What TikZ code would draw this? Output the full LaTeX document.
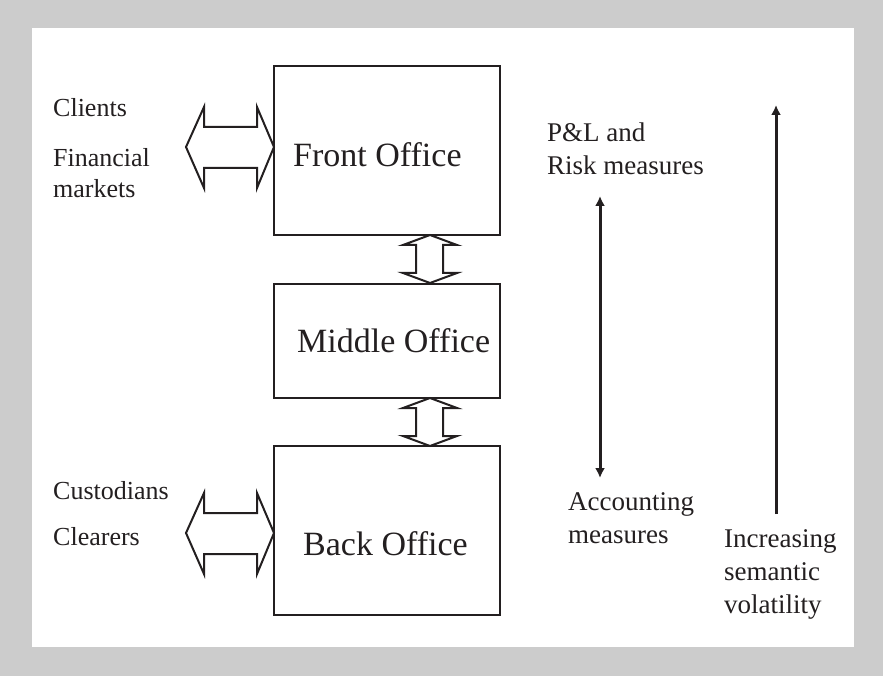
\documentclass[tikz,border=0pt]{standalone}
\usepackage{fontspec}
\setmainfont{Liberation Serif}
\usetikzlibrary{arrows.meta}
\definecolor{ink}{HTML}{231F20}
\definecolor{frame}{HTML}{CCCCCC}
% hollow double arrow, horizontal, starting at its left tip
\newcommand\hollowH[1]{%
  \draw[hollow] (#1) -- ++(18,-40) -- ++(0,20) -- ++(53,0) -- ++(0,-20)
    -- ++(17,40) -- ++(-17,41) -- ++(0,-20) -- ++(-53,0) -- ++(0,20) -- cycle;}
% hollow double arrow, vertical, starting at its top tip
\newcommand\hollowV[1]{%
  \draw[hollow] (#1) -- ++(-27,10) -- ++(13,0) -- ++(0,28) -- ++(-13,0)
    -- ++(27,10) -- ++(27,-10) -- ++(-14,0) -- ++(0,-28) -- ++(14,0) -- cycle;}
\begin{document}
\begin{tikzpicture}[x=1pt,y=-1pt,
  office/.style={draw=ink, line width=2pt, fill=white, minimum width=226pt,
    inner sep=0pt, outer sep=0pt, anchor=north west},
  hollow/.style={draw=ink, line width=2pt, fill=white, line join=miter},
  lbl/.style={text=ink, font=\fontsize{26}{31}\selectfont, inner sep=0pt, anchor=base west},
  rlbl/.style={text=ink, font=\fontsize{27}{33}\selectfont, inner sep=0pt, anchor=base west},
  title/.style={text=ink, font=\fontsize{34}{40}\selectfont, inner sep=0pt, anchor=base west},
  measure/.style={draw=ink, line width=3pt, {Latex[length=10pt,width=10pt]}-{Latex[length=10pt,width=10pt]}},
  trend/.style={draw=ink, line width=3pt, -{Latex[length=10pt,width=10pt]}}]
  % frame
  \fill[frame] (0,0) rectangle (883,676);
  \fill[white] (32,28) rectangle (854,647);
  \useasboundingbox (0,0) rectangle (883,676);

  % office boxes
  \node[office, minimum height=169pt] (front) at (274,66) {};
  \node[office, minimum height=114pt] (middle) at (274,284) {};
  \node[office, minimum height=169pt] (back) at (274,446) {};
  \node[title] (frontT) at (293,167) {Front Office};
  \node[title] (middleT) at (297,352) {Middle Office};
  \node[title] (backT) at (303,555) {Back Office};

  % links between offices
  \coordinate (fm) at (430,235);
  \coordinate (mb) at (430,398);
  \hollowV{fm}
  \hollowV{mb}

  % external parties
  \node[lbl] (clients) at (53,117) {Clients};
  \node[lbl] (financial) at (53,167) {Financial};
  \node[lbl] (markets) at (53,198) {markets};
  \node[lbl] (custodians) at (53,499) {Custodians};
  \node[lbl] (clearers) at (53,545) {Clearers};
  \coordinate (extF) at (186,147);
  \coordinate (extB) at (186,533);
  \hollowH{extF}
  \hollowH{extB}

  % measures
  \node[rlbl] (pl) at (547,142) {P\&L and};
  \node[rlbl] (risk) at (547,175) {Risk measures};
  \node[rlbl] (acc) at (568,510) {Accounting};
  \node[rlbl] (accm) at (568,543) {measures};
  \coordinate (mTop) at (600,196);
  \coordinate (mBot) at (600,478);
  \draw[measure] (mTop) -- (mBot);

  % volatility
  \node[rlbl] (inc) at (724,547) {Increasing};
  \node[rlbl] (sem) at (724,580) {semantic};
  \node[rlbl] (vol) at (724,613) {volatility};
  \coordinate (vBot) at (776,514);
  \coordinate (vTop) at (776,105);
  \draw[trend] (vBot) -- (vTop);
\end{tikzpicture}
\end{document}
